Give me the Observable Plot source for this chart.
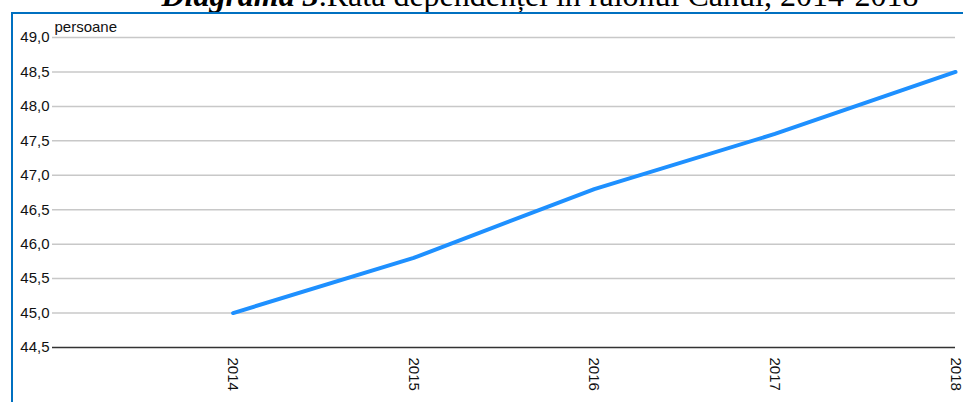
<!DOCTYPE html>
<html><head><meta charset="utf-8">
<script src="https://cdn.jsdelivr.net/npm/d3@7"></script>
<script src="https://cdn.jsdelivr.net/npm/@observablehq/plot@0.6"></script>
<style>
body{margin:0;background:#fff;}
#wrap{position:relative;width:963px;height:402px;overflow:hidden;background:#fff;}
#title{position:absolute;left:0;top:0;}
#frame{position:absolute;left:11px;top:12px;width:960px;height:400px;border-left:2px solid #0070c0;border-top:2px solid #0070c0;}
#chart{position:absolute;left:0;top:0;}
</style></head><body>
<div id="wrap">
<svg id="title" width="963" height="20"><text x="540" y="6" text-anchor="middle" font-family="Liberation Serif, Times New Roman, serif" font-size="32" fill="#000"><tspan font-weight="bold" font-style="italic">Diagrama 3</tspan>.Rata dependenței în raionul Cahul, 2014-2018</text></svg>
<div id="frame"></div>
<div id="chart"></div>
</div>
<script>
const years = [2014, 2015, 2016, 2017, 2018];
const values = [45.0, 45.8, 46.8, 47.6, 48.5];
const yTicks = [44.5, 45.0, 45.5, 46.0, 46.5, 47.0, 47.5, 48.0, 48.5, 49.0];
const unitLabel = "persoane";

const data = years.map((year, i) => ({year, value: values[i]}));
const fmt = d => d.toFixed(1).replace(".", ",");

const chart = Plot.plot({
  width: 963,
  height: 402,
  marginLeft: 52,
  marginRight: 8,
  marginTop: 37,
  marginBottom: 55,
  style: {fontFamily: "Liberation Sans, Arial, sans-serif", fontSize: "15px", color: "#111", background: "transparent"},
  x: {domain: [2013, 2018]},
  y: {domain: [44.5, 49]},
  marks: [
    Plot.ruleY(yTicks.slice(1), {stroke: "#c8c8c8", strokeWidth: 1.5}),
    Plot.ruleY([44.5], {stroke: "#333", strokeWidth: 1.5}),
    Plot.axisY({ticks: yTicks, tickSize: 0, tickPadding: 3, tickFormat: fmt, label: null, fontSize: 15}),
    Plot.axisX({ticks: years, tickSize: 0, tickPadding: 10, tickRotate: 90, tickFormat: d => String(d), label: null, fontSize: 15}),
    Plot.line(data, {x: "year", y: "value", stroke: "#1e90ff", strokeWidth: 4}),
    Plot.text([unitLabel], {frameAnchor: "top-left", text: d => d, dx: 2, dy: -6, lineAnchor: "bottom", textAnchor: "start", fontSize: 15, fill: "#111"})
  ]
});
document.getElementById("chart").appendChild(chart);
</script>
</body></html>
